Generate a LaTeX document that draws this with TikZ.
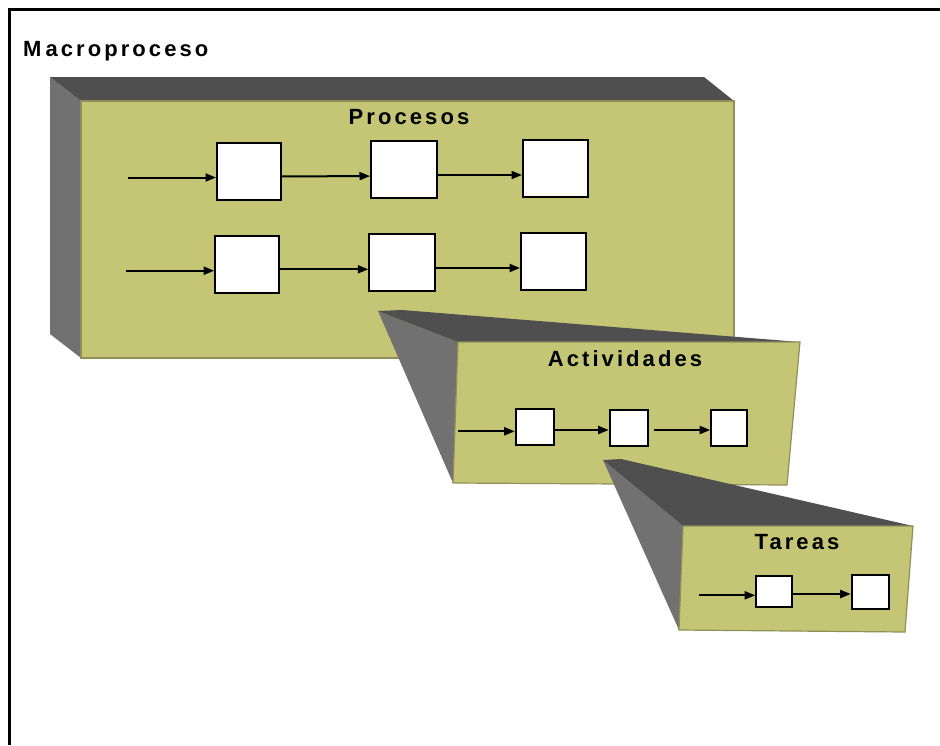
\documentclass[tikz,border=0pt]{standalone}
\usepackage{fontspec}
\setmainfont{Liberation Sans}
\newfontfamily\lblfont{Liberation Sans}[LetterSpace=14]
\usetikzlibrary{arrows.meta}

\definecolor{facecol}{RGB}{197,197,118}
\definecolor{edgecol}{RGB}{143,143,88}
\definecolor{topcol}{RGB}{79,79,79}
\definecolor{sidecol}{RGB}{113,113,113}

\tikzset{
  lbl/.style={inner sep=0pt, font=\lblfont\bfseries\fontsize{22}{26}\selectfont},
  face/.style={fill=facecol, draw=edgecol, line width=1.2pt},
  topface/.style={fill=topcol},
  sideface/.style={fill=sidecol},
  flowbox/.style={draw=black, fill=white, line width=2pt, inner sep=0pt},
  arr/.style={line width=2pt, -{Triangle[length=10.5pt,width=8pt]}}
}

\begin{document}
\begin{tikzpicture}[x=1pt,y=-1pt]
\useasboundingbox (0,0) rectangle (940,745);

% outer frame
\draw[line width=2.5pt] (9.5,745) -- (9.5,9.5) -- (940,9.5);

% block: Procesos
\fill[sideface] (50,77) -- (81,101) -- (81,358) -- (50,334) -- cycle;
\fill[topface] (50,77) -- (704,77) -- (734,101) -- (81,101) -- cycle;
\path[face] (81,101) rectangle (734,358);

\node[lbl, anchor=base west] (macro) at (23,56) {M\kern4pt acroproceso};
\node[lbl, anchor=base] (procesos) at (409,124) {Procesos};

\node[flowbox, minimum width=64pt, minimum height=57pt] (p11) at (249,171.2) {};
\node[flowbox, minimum width=66pt, minimum height=57pt] (p12) at (404,169.5) {};
\node[flowbox, minimum width=65pt, minimum height=57pt] (p13) at (555.5,168.5) {};
\node[flowbox, minimum width=64pt, minimum height=57pt] (p21) at (247.2,264) {};
\node[flowbox, minimum width=66pt, minimum height=57pt] (p22) at (402.3,262.5) {};
\node[flowbox, minimum width=65pt, minimum height=57pt] (p23) at (553.5,261.5) {};

\coordinate (pin1) at (128,177.5);
\coordinate (pin2) at (126,270.7);
\draw[arr] (pin1) -- ([yshift=-6.3pt]p11.west);
\draw[arr] ([yshift=-5.2pt]p11.east) -- ([yshift=-6.6pt]p12.west);
\draw[arr] ([yshift=-5.5pt]p12.east) -- ([yshift=-6.5pt]p13.west);
\draw[arr] (pin2) -- ([yshift=-6.7pt]p21.west);
\draw[arr] ([yshift=-5.3pt]p21.east) -- ([yshift=-6.8pt]p22.west);
\draw[arr] ([yshift=-5.5pt]p22.east) -- ([yshift=-6.5pt]p23.west);

% block: Actividades
\fill[sideface] (378,311) -- (458,342) -- (453,483) -- cycle;
\fill[topface] (378,311) -- (402,310) -- (800,342) -- (458,342) -- cycle;
\path[face] (458,342) -- (800,342) -- (787,485) -- (453,483) -- cycle;

\node[lbl, anchor=base] (activ) at (625,366) {Actividades};

\node[flowbox, minimum width=38pt, minimum height=36pt] (a1) at (534.7,427) {};
\node[flowbox, minimum width=38pt, minimum height=36pt] (a2) at (628.7,428) {};
\node[flowbox, minimum width=36pt, minimum height=36pt] (a3) at (729.2,428) {};

\coordinate (ain) at (458,431.3);
\draw[arr] (ain) -- ([yshift=-4.3pt]a1.west);
\draw[arr] ([yshift=-3pt]a1.east) -- ([yshift=-2pt]a2.west);
\draw[arr, shorten <=5pt] ([yshift=-2pt]a2.east) -- ([yshift=-2pt]a3.west);

% block: Tareas
\fill[sideface] (603,460) -- (683,526) -- (679,630) -- cycle;
\fill[topface] (603,460) -- (621,459) -- (913,526) -- (683,526) -- cycle;
\path[face] (683,526) -- (913,526) -- (905,632) -- (679,630) -- cycle;

\node[lbl, anchor=base] (tareas) at (797,549) {Tareas};

\node[flowbox, minimum width=36pt, minimum height=31pt] (t1) at (774.2,591.7) {};
\node[flowbox, minimum width=37pt, minimum height=34pt] (t2) at (870.2,592) {};

\coordinate (tin) at (699,595.3);
\draw[arr] (tin) -- ([yshift=-3.6pt]t1.west);
\draw[arr] ([yshift=-2.3pt]t1.east) -- ([yshift=-2pt]t2.west);

\end{tikzpicture}
\end{document}
